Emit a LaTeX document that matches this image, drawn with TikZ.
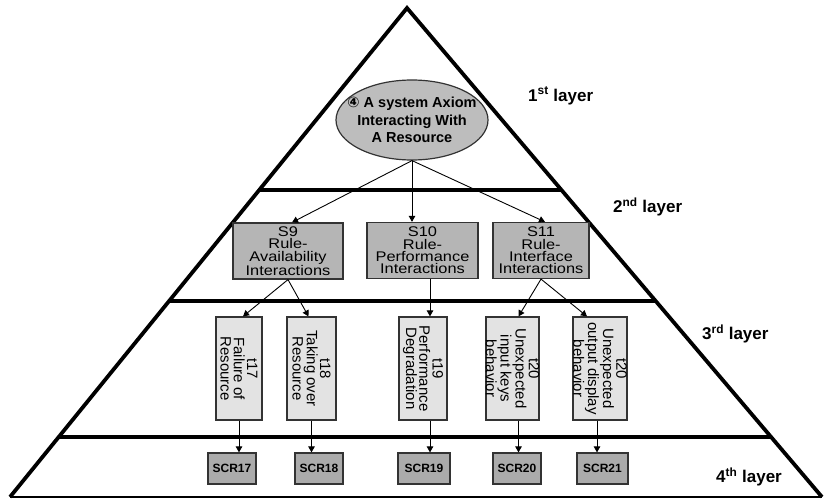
\documentclass[tikz,border=0pt]{standalone}
\usepackage{fontspec}
\setmainfont{Liberation Sans}
\newfontfamily\symfont{DejaVu Sans}
\newfontfamily\widefont[FakeStretch=1.17]{Liberation Sans}
\usetikzlibrary{arrows.meta,shapes.geometric,calc}

\definecolor{boxgray}{gray}{0.71}
\definecolor{scrgray}{gray}{0.67}
\definecolor{lightbox}{gray}{0.89}
\definecolor{ovalgray}{gray}{0.74}
\definecolor{rim}{gray}{0.2}

\begin{document}
\begin{tikzpicture}[x=1pt,y=-1pt,
  side/.style={line width=3.8pt, line join=miter},
  divider/.style={line width=3.2pt},
  base/.style={line width=2.4pt},
  link/.style={line width=0.9pt, -{Triangle[length=6pt,width=6.5pt]}},
  rulebox/.style={draw=rim, line width=1.2pt, fill=boxgray, inner sep=0pt,
    minimum height=56pt, align=center, font=\widefont\fontsize{14}{12.4}\selectfont},
  threatbox/.style={draw=rim, line width=1.2pt, fill=lightbox, inner sep=0pt,
    minimum height=103pt},
  threattext/.style={rotate=-90, align=center, inner sep=0pt,
    font=\fontsize{15}{13.2}\selectfont},
  scrbox/.style={draw=rim, line width=1.2pt, fill=scrgray, inner sep=0pt,
    minimum height=31pt, font=\bfseries\fontsize{12}{14}\selectfont},
  layerlabel/.style={anchor=west, inner sep=0pt, font=\bfseries\fontsize{17}{20}\selectfont}]
\useasboundingbox (0,0) rectangle (824,500);

% pyramid outline
\coordinate (apex) at (407,8);
\coordinate (bl) at (10,497);
\coordinate (br) at (822,497);
\draw[side] (bl) -- (apex) -- (br);
\draw[base] (bl) -- (br);

% layer dividers, each running between the two sides
\foreach \yy in {190,301,437} {
  \draw[divider] ({407-(397/489)*(\yy-8)},\yy) -- ({407+(415/489)*(\yy-8)},\yy);
}

% layer labels
\node[layerlabel] (l1) at (528,96) {1\textsuperscript{st} layer};
\node[layerlabel] (l2) at (613,207) {2\textsuperscript{nd} layer};
\node[layerlabel] (l3) at (702,334) {3\textsuperscript{rd} layer};
\node[layerlabel] (l4) at (716,477) {4\textsuperscript{th} layer};

% 1st layer: axiom
\node[ellipse, draw=rim, line width=1.2pt, fill=ovalgray, minimum width=152pt,
  minimum height=80pt, inner sep=0pt] (axiom) at (412,120) {};
\node[align=center, inner sep=0pt, font=\bfseries\fontsize{14.5}{17.5}\selectfont]
  (axiomtxt) at (axiom.center) {{\symfont\bfseries ④} A system Axiom\\Interacting With\\A Resource};

% 2nd layer: rules
\node[rulebox, minimum width=110pt] (s9) at (288,251) {S9\\Rule-\\Availability\\Interactions};
\node[rulebox, minimum width=111pt] (s10) at (422.5,250.5) {S10\\Rule-\\Performance\\Interactions};
\node[rulebox, minimum width=96pt] (s11) at (541,250.5) {S11\\Rule-\\Interface\\Interactions};

% 3rd layer: threats
\node[threatbox, minimum width=46pt] (t17) at (239,368.5) {};
\node[threatbox, minimum width=49pt] (t18) at (311.5,368.5) {};
\node[threatbox, minimum width=48pt] (t19) at (423,368.5) {};
\node[threatbox, minimum width=53pt] (t20a) at (512.5,368.5) {};
\node[threatbox, minimum width=54pt] (t20b) at (600,368.5) {};
\node[threattext] (t17txt) at (t17) {t17\\Failure of\\Resource};
\node[threattext] (t18txt) at (t18) {t18\\Taking over\\Resource};
\node[threattext] (t19txt) at (t19) {t19\\Performance\\Degradation};
\node[threattext] (t20atxt) at (t20a) {t20\\Unexpected\\input keys\\behavior};
\node[threattext] (t20btxt) at (t20b) {t20\\Unexpected\\output display\\behavior};

% 4th layer: scenarios
\node[scrbox, minimum width=48pt] (scr17) at (232,468.5) {SCR17};
\node[scrbox, minimum width=48pt] (scr18) at (319,468.5) {SCR18};
\node[scrbox, minimum width=52pt] (scr19) at (424,468.5) {SCR19};
\node[scrbox, minimum width=48pt] (scr20) at (517,468.5) {SCR20};
\node[scrbox, minimum width=51pt] (scr21) at (602.5,468.5) {SCR21};

% axiom -> rules
\draw[link] (axiom.south) -- ($(s9.north)+(4,0)$);
\draw[link] (axiom.south) -- (axiom.south |- s10.north);
\draw[link] (axiom.south) -- ($(s11.north)+(4,0)$);

% rules -> threats
\draw[link] (s9.south) -- ($(t17.north)+(4,0)$);
\draw[link] (s9.south) -- ($(t18.north)+(-3,0)$);
\draw[link] ($(s10.south)+(7.5,0)$) -- ($(t19.north)+(7,0)$);
\draw[link] (s11.south) -- ($(t20a.north)+(6,0)$);
\draw[link] (s11.south) -- ($(t20b.north)+(-13,0)$);

% threats -> scenarios
\draw[link] (t17.south) -- (t17.south |- scr17.north);
\draw[link] (t18.south) -- (t18.south |- scr18.north);
\draw[link] ($(t19.south)+(7,0)$) -- ($(t19.south |- scr19.north)+(7,0)$);
\draw[link] ($(t20a.south)+(6,0)$) -- ($(t20a.south |- scr20.north)+(6,0)$);
\draw[link] ($(t20b.south)+(-3,0)$) -- ($(t20b.south |- scr21.north)+(-3,0)$);
\end{tikzpicture}
\end{document}
